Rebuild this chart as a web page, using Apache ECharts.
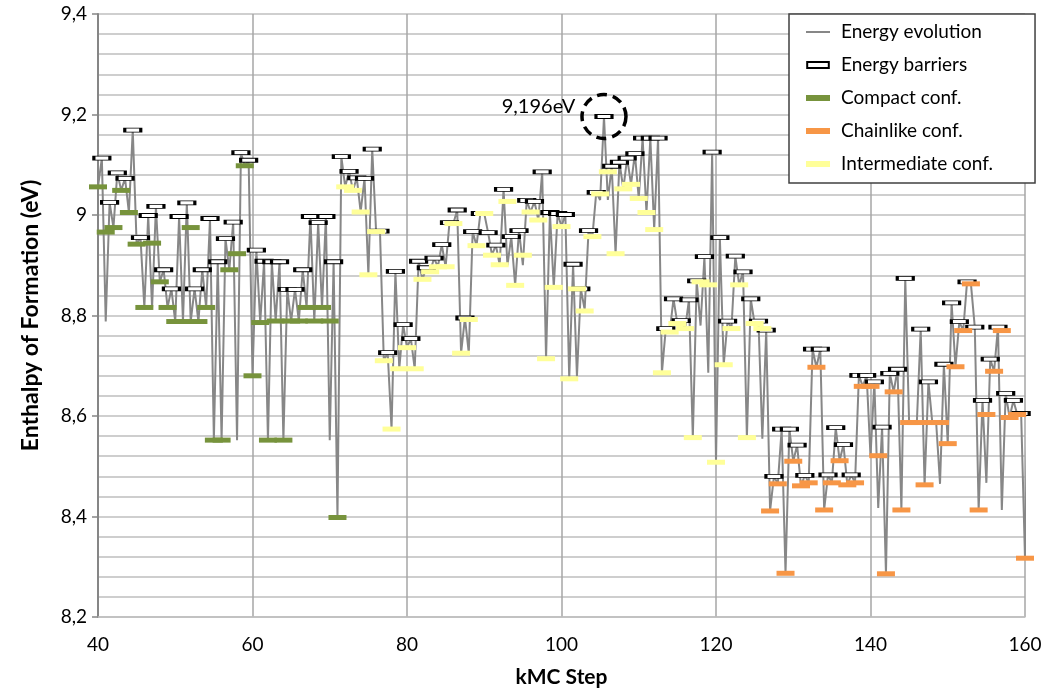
<!DOCTYPE html>
<html><head><meta charset="utf-8">
<script src="https://cdn.jsdelivr.net/npm/echarts@6/dist/echarts.min.js"></script>
<style>html,body{margin:0;padding:0;background:#fff}#c{width:1051px;height:695px}</style>
</head><body><div id="c"></div>
<script>
// ---- data ----
const firstStep = 40;            // kMC step of the first state
// energy of the line at each integer step (states), steps 40..160
const stateLineE = [
 9.056,8.788,8.975,9.049,9.005,8.942,8.816,8.816,8.867,8.816,
 8.788,8.788,8.788,8.788,8.816,8.552,8.552,8.891,8.552,9.098,
 8.680,8.786,8.552,8.789,8.552,8.789,8.789,8.816,8.788,8.816,
 8.552,8.398,9.056,9.049,9.006,8.881,8.967,8.710,8.574,8.694,
 8.736,8.694,8.872,8.887,8.897,8.897,8.983,8.725,8.725,8.939,
 9.003,8.920,8.901,8.900,8.860,8.900,9.006,8.990,8.714,8.856,
 8.977,8.674,8.678,8.812,8.957,9.030,9.030,8.923,9.052,9.061,
 9.033,9.005,8.971,8.686,8.767,8.784,8.774,8.557,8.780,8.686,
 8.508,8.702,8.774,8.861,8.557,8.784,8.555,8.411,8.465,8.287,
 8.510,8.461,8.467,8.697,8.413,8.467,8.511,8.463,8.467,8.659,
 8.520,8.417,8.286,8.648,8.413,8.587,8.587,8.463,8.587,8.465,
 8.545,8.698,8.770,8.863,8.413,8.467,8.689,8.413,8.597,8.603,
 8.317
];
// barrier energies at half steps 40.5 .. 160.5 (last one lies beyond the axis)
const barrierE = [
 9.113,9.025,9.084,9.073,9.169,8.955,8.999,9.017,8.891,8.853,
 8.997,9.024,8.853,8.891,8.993,8.907,8.953,8.986,9.124,9.109,
 8.930,8.908,8.907,8.907,8.852,8.852,8.891,8.997,8.985,8.997,
 8.907,9.116,9.087,9.074,9.073,9.131,8.968,8.726,8.888,8.782,
 8.754,8.908,8.895,8.914,8.941,8.985,9.010,8.795,8.967,9.003,
 8.965,8.940,9.051,8.957,8.969,9.029,9.027,9.086,9.005,9.003,
 9.001,8.902,8.853,8.969,9.045,9.196,9.097,9.105,9.113,9.122,
 9.153,9.153,9.153,8.774,8.833,8.790,8.831,8.869,8.917,9.125,
 8.955,8.789,8.918,8.887,8.833,8.789,8.771,8.480,8.574,8.574,
 8.542,8.482,8.733,8.733,8.483,8.577,8.543,8.483,8.681,8.681,
 8.668,8.578,8.685,8.693,8.874,8.587,8.773,8.668,8.587,8.703,
 8.825,8.788,8.867,8.777,8.631,8.713,8.777,8.645,8.631,8.605,
 8.750
];
const hiddenBarrierSteps = [145.5, 148.5]; // transitions without a visible barrier

const compactStart = 40;
const compactE = [
 9.056,8.966,8.975,9.049,9.005,8.942,8.816,8.944,8.867,8.816,
 8.788,8.788,8.975,8.788,8.816,8.552,8.552,8.891,8.923,9.098,
 8.680,8.786,8.552,8.789,8.552,8.789,8.789,8.816,8.789,8.816,
 8.789,8.398
];
const interStart = 72;
const interE = [
 9.056,9.049,9.006,8.881,8.967,8.710,8.574,8.694,8.736,8.694,
 8.872,8.887,8.897,8.897,8.983,8.725,8.792,8.939,9.003,8.920,
 8.901,9.027,8.860,8.920,9.006,8.990,8.714,8.856,8.977,8.674,
 8.853,8.809,8.957,9.042,9.086,8.923,9.052,9.061,9.033,9.005,
 8.971,8.686,8.767,8.784,8.774,8.557,8.867,8.861,8.508,8.702,
 8.774,8.861,8.557,8.784,8.774
];
const chainStart = 127;
const chainE = [
 8.411,8.465,8.287,8.510,8.461,8.467,8.697,8.413,8.467,8.511,
 8.463,8.467,8.659,8.659,8.521,8.286,8.648,8.413,8.587,8.587,
 8.463,8.587,8.587,8.545,8.698,8.770,8.863,8.413,8.603,8.689,
 8.770,8.597,8.603,8.317
];
const xMin = 40, xMax = 160, xStep = 20;
const yMin = 8.2, yMax = 9.4, yStep = 0.2;
const seriesNames = ['Energy evolution','Energy barriers','Compact conf.','Chainlike conf.','Intermediate conf.'];

// ---- build series data ----
const lineData = [];
stateLineE.forEach((e, i) => {
  const k = firstStep + i;
  lineData.push([k, e]);
  if (i < barrierE.length) lineData.push([k + 0.5, barrierE[i]]);
});
const barrierData = barrierE.map((e, i) => [firstStep + i + 0.5, e])
  .filter(d => d[0] <= xMax && !hiddenBarrierSteps.includes(d[0]));
const toPts = (start, arr) => arr.map((e, i) => [start + i, e]);
let peak = barrierData[0];
barrierData.forEach(d => { if (d[1] > peak[1]) peak = d; });

const FONT = 'Lato, "Open Sans", sans-serif';
const fmtComma = v => String(+v.toFixed(3)).replace('.', ',');

const chart = echarts.init(document.getElementById('c'), null, {renderer: 'canvas'});
chart.setOption({
  animation: false,
  textStyle: {fontFamily: FONT},
  grid: {left: 98, right: 26, top: 14, bottom: 78, containLabel: false},
  legend: {
    orient: 'vertical', left: 789, top: 14,
    padding: [7, 42, 8, 16], itemGap: 11, itemWidth: 24, itemHeight: 6,
    symbolKeepAspect: true,
    backgroundColor: '#fff', borderColor: '#404040', borderWidth: 1.5,
    textStyle: {fontSize: 19, lineHeight: 22, color: '#000', fontFamily: FONT, padding: [0, 0, 0, 6]},
    data: [
      {name: seriesNames[0], itemStyle: {opacity: 0, color: 'rgba(0,0,0,0)', borderWidth: 0}},
      {name: seriesNames[1], icon: 'path://M0,0 H18 V5 H0 Z'},
      {name: seriesNames[2]},
      {name: seriesNames[3]},
      {name: seriesNames[4]}
    ]
  },
  xAxis: {
    type: 'value', min: xMin, max: xMax, interval: xStep,
    name: 'kMC Step', nameLocation: 'middle', nameGap: 50,
    nameTextStyle: {fontSize: 21, fontWeight: 'bold', color: '#000', fontFamily: FONT},
    axisLine: {onZero: false, lineStyle: {color: '#BFBFBF', width: 1.5}},
    axisTick: {show: false},
    axisLabel: {fontSize: 19, color: '#000', margin: 18, fontFamily: FONT},
    splitLine: {show: true, lineStyle: {color: '#A6A6A6', width: 1.5}}
  },
  yAxis: {
    type: 'value', min: yMin, max: yMax, interval: yStep,
    name: 'Enthalpy of Formation (eV)', nameLocation: 'middle', nameGap: 56,
    nameTextStyle: {fontSize: 23, fontWeight: 'bold', color: '#000', fontFamily: FONT},
    axisLine: {show: true, lineStyle: {color: '#868686', width: 2}},
    axisTick: {show: true, length: 6, lineStyle: {color: '#868686', width: 1.5}},
    axisLabel: {fontSize: 19, color: '#000', margin: 11, fontFamily: FONT,
      formatter: v => String(+v.toFixed(1)).replace('.', ',')},
    splitLine: {show: true, lineStyle: {color: '#BFBFBF', width: 1.5}},
    minorTick: {show: false, splitNumber: 5},
    minorSplitLine: {show: true, lineStyle: {color: '#BFBFBF', width: 1.5}}
  },
  series: [
    {name: seriesNames[0], type: 'line', data: lineData, symbol: 'none', clip: true, z: 2,
     lineStyle: {color: '#878787', width: 2}, itemStyle: {color: '#878787'}},
    {name: seriesNames[1], type: 'scatter', data: barrierData, symbol: 'rect', symbolSize: [16, 4], z: 3,
     itemStyle: {color: '#fff', borderColor: '#000', borderWidth: 1.6, opacity: 1},
     markPoint: {
       symbol: 'circle', symbolSize: 44, z: 10,
       itemStyle: {color: 'rgba(0,0,0,0)', borderColor: '#000', borderWidth: 3.5, borderType: [10, 6]},
       label: {show: true, position: 'left', distance: 3, offset: [-2, -10], color: '#000', fontSize: 20,
         fontFamily: FONT, formatter: p => fmtComma(p.data.coord[1]) + 'eV'},
       data: [{coord: peak}]
     }},
    {name: seriesNames[2], type: 'scatter', data: toPts(compactStart, compactE), symbol: 'rect', symbolSize: [18, 5], z: 4,
     itemStyle: {color: '#77933C', opacity: 1}},
    {name: seriesNames[3], type: 'scatter', data: toPts(chainStart, chainE), symbol: 'rect', symbolSize: [18, 5], z: 4,
     itemStyle: {color: '#F79646', opacity: 1}},
    {name: seriesNames[4], type: 'scatter', data: toPts(interStart, interE), symbol: 'rect', symbolSize: [18, 5], z: 4,
     itemStyle: {color: '#FFFF99', opacity: 1}}
  ]
});
</script></body></html>
